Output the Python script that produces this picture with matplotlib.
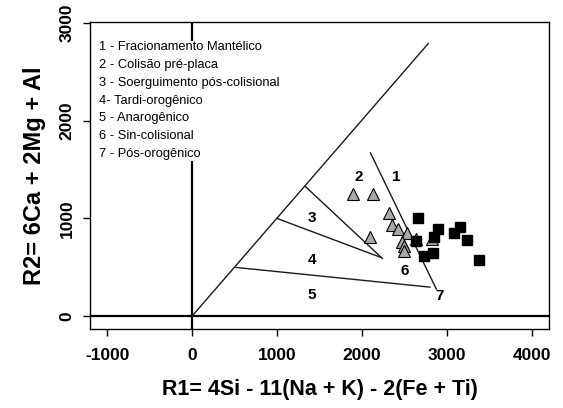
import matplotlib
matplotlib.use("Agg")
import matplotlib.pyplot as plt
from matplotlib import font_manager

# pontos do diagrama R1-R2 (De la Roche)
tri_r1 = [1890, 2135, 2315, 2350, 2420, 2525, 2095, 2635, 2825, 2475, 2495, 2500]
tri_r2 = [1255, 1255, 1055, 930, 895, 850, 810, 790, 785, 760, 715, 670]
sq_r1 = [2660, 2890, 3150, 3085, 3235, 2850, 2635, 2830, 2730, 3375]
sq_r2 = [1000, 890, 915, 855, 775, 815, 765, 650, 615, 575]

# limites dos campos (Batchelor & Bowden)
diag_r1, diag_r2 = [0, 2780], [0, 2790]
l23_r1, l23_r2 = [1330, 2240], [1330, 590]
l34_r1, l34_r2 = [1000, 2225], [1000, 600]
l45_r1, l45_r2 = [500, 2800], [500, 297]
l1_r1, l1_r2 = [2100, 2875], [1670, 276]

campos = ["1", "2", "3", "4", "5", "6", "7"]
campos_r1 = [2407, 1962, 1412, 1412, 1412, 2501, 2911]
campos_r2 = [1423, 1423, 1003, 573, 215, 460, 205]

legenda = ["1 - Fracionamento Mantélico",
           "2 - Colisão pré-placa",
           "3 - Soerguimento pós-colisional",
           "4- Tardi-orogênico",
           "5 - Anarogênico",
           "6 - Sin-colisional",
           "7 - Pós-orogênico"]

xticks = [-1000, 0, 1000, 2000, 3000, 4000]
yticks = [0, 1000, 2000, 3000]

try:
    font_manager.findfont("Liberation Sans Narrow", fallback_to_default=False)
    tick_font, tick_size = "Liberation Sans Narrow", 15
except ValueError:
    tick_font, tick_size = "Liberation Sans", 12.5

plt.rcParams["font.family"] = ["Liberation Sans", "DejaVu Sans"]

fig = plt.figure(figsize=(5.63, 4.08), dpi=100)
ax = fig.add_axes([0.160, 0.194, 0.815, 0.752])

ax.axvline(0, color="black", lw=1.6, zorder=1)
ax.axhline(0, color="black", lw=1.6, zorder=1)
for xs, ys in [(diag_r1, diag_r2), (l23_r1, l23_r2), (l34_r1, l34_r2),
               (l45_r1, l45_r2), (l1_r1, l1_r2)]:
    ax.plot(xs, ys, color="#1a1a1a", lw=1.0, zorder=2)

ax.plot(tri_r1, tri_r2, ls="none", marker="^", ms=9, mfc="#a8a8a8",
        mec="black", mew=0.8, zorder=3)
ax.plot(sq_r1, sq_r2, ls="none", marker="s", ms=6.5, mfc="black",
        mec="black", zorder=4)

for lab, x, y in zip(campos, campos_r1, campos_r2):
    ax.text(x, y, lab, ha="center", va="center", fontsize=11,
            family=[tick_font, "DejaVu Sans"], fontweight="bold", zorder=5)

ax.text(0.02, 0.937, "\n".join(legenda), transform=ax.transAxes,
        ha="left", va="top", fontsize=9.3, linespacing=1.64, zorder=6,
        bbox=dict(facecolor="white", edgecolor="none", pad=0.5))

ax.set_xlim(-1200, 4200)
ax.set_ylim(-130, 3010)
ax.set_xticks(xticks)
ax.set_yticks(yticks)
ax.set_xticklabels([str(v) for v in xticks], family=[tick_font, "DejaVu Sans"],
                   fontsize=tick_size, fontweight="bold")
ax.set_yticklabels([str(v) for v in yticks], family=[tick_font, "DejaVu Sans"],
                   fontsize=tick_size, fontweight="bold", rotation=90, va="center")
ax.tick_params(axis="x", length=5, width=1, pad=9)
ax.tick_params(axis="y", length=5, width=1, pad=6)
for s in ax.spines.values():
    s.set_linewidth(1)

ax.set_xlabel("R1= 4Si - 11(Na + K) - 2(Fe + Ti)", fontsize=15.5,
              fontweight="bold", labelpad=11)
ax.set_ylabel("R2= 6Ca + 2Mg + Al", fontsize=17, fontweight="bold", labelpad=10)

fig.savefig("out.png", dpi=100)
